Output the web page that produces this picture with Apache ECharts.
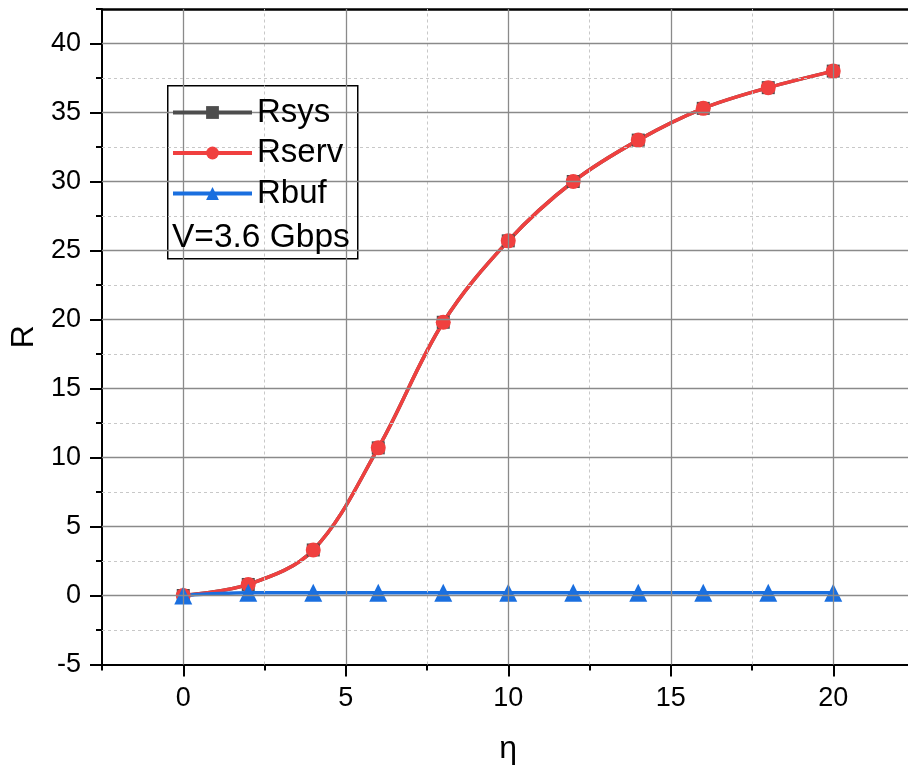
<!DOCTYPE html>
<html>
<head>
<meta charset="utf-8">
<script src="https://cdn.jsdelivr.net/npm/echarts@6/dist/echarts.min.js"></script>
<style>
html,body{margin:0;padding:0;background:#fff;}
#chart{width:908px;height:767px;}
</style>
</head>
<body>
<div id="chart"></div>
<script>
// ---- data ----
const etaValues = [0, 2, 4, 6, 8, 10, 12, 14, 16, 18, 20];
const rsysValues = [0, 0.8, 3.3, 10.7, 19.8, 25.7, 30.0, 33.0, 35.3, 36.8, 38.0];
const rservValues = [0, 0.8, 3.3, 10.7, 19.8, 25.7, 30.0, 33.0, 35.3, 36.8, 38.0];
const rbufValues = [0, 0.2, 0.2, 0.2, 0.2, 0.2, 0.2, 0.2, 0.2, 0.2, 0.2];
const seriesNames = ['Rsys', 'Rserv', 'Rbuf'];
const xMajorTicks = [0, 5, 10, 15, 20];
const xMinorGrid = [2.5, 7.5, 12.5, 17.5, 22.5];
const yMajorTicks = [-5, 0, 5, 10, 15, 20, 25, 30, 35, 40];
const yMinorGrid = [-2.5, 2.5, 7.5, 12.5, 17.5, 22.5, 27.5, 32.5, 37.5];
const annotationText = 'V=3.6 Gbps';
const xAxisName = 'η';
const yAxisName = 'R';

const FONT = "'Liberation Sans', Arial, sans-serif";
const pairs = (ys) => etaValues.map((x, i) => [x, ys[i]]);

const chart = echarts.init(document.getElementById('chart'), null, {renderer: 'canvas'});

const xCommon = {type: 'value', min: -2.5, max: 22.5, interval: 2.5, gridIndex: 0};
const yCommon = {type: 'value', min: -5, max: 42.5, interval: 2.5, gridIndex: 0};

const majorStyle = {color: '#8a8a8a', width: 1.3, type: 'solid'};
const minorStyle = {color: '#c8c8c8', width: 1, type: [3, 3]};
const gridLines = []
  .concat(xMajorTicks.filter(v => v > -2.5).map(v => ({xAxis: v, lineStyle: majorStyle})))
  .concat(xMinorGrid.map(v => ({xAxis: v, lineStyle: minorStyle})))
  .concat(yMajorTicks.filter(v => v > -5).map(v => ({yAxis: v, lineStyle: majorStyle})))
  .concat(yMinorGrid.map(v => ({yAxis: v, lineStyle: minorStyle})));

const option = {
  animation: false,
  backgroundColor: '#fff',
  textStyle: {fontFamily: FONT},
  grid: {left: 102, width: 812.5, top: 9, height: 655.5, containLabel: false, outerBoundsMode: 'none'},
  xAxis: [
    Object.assign({}, xCommon, {
      position: 'bottom',
      name: xAxisName,
      nameLocation: 'middle',
      nameGap: 69,
      nameTextStyle: {fontSize: 32, color: '#000', fontFamily: FONT},
      axisLine: {show: true, onZero: false, lineStyle: {color: '#000', width: 2}},
      axisTick: {show: true, inside: false, length: 6, lineStyle: {color: '#000', width: 2}},
      axisLabel: {show: true, margin: 21, fontSize: 27, color: '#000', fontFamily: FONT,
        formatter: (v) => xMajorTicks.indexOf(v) >= 0 ? String(v) : ''},
      splitLine: {show: false}
    }),
    Object.assign({}, xCommon, {
      position: 'bottom',
      axisLine: {show: false, onZero: false},
      axisTick: {show: true, inside: false, length: 12, customValues: xMajorTicks, lineStyle: {color: '#000', width: 2}},
      axisLabel: {show: false},
      splitLine: {show: false}
    }),
    Object.assign({}, xCommon, {
      position: 'top',
      axisLine: {show: true, onZero: false, lineStyle: {color: '#000', width: 2.5}},
      axisTick: {show: false},
      axisLabel: {show: false},
      splitLine: {show: false}
    })
  ],
  yAxis: [
    Object.assign({}, yCommon, {
      position: 'left',
      name: yAxisName,
      nameLocation: 'middle',
      nameGap: 62,
      nameTextStyle: {fontSize: 32, color: '#000', fontFamily: FONT},
      axisLine: {show: true, onZero: false, lineStyle: {color: '#000', width: 2}},
      axisTick: {show: true, inside: false, length: 6, lineStyle: {color: '#000', width: 2}},
      axisLabel: {show: true, margin: 21, fontSize: 27, color: '#000', fontFamily: FONT,
        formatter: (v) => yMajorTicks.indexOf(v) >= 0 ? String(v) : ''},
      splitLine: {show: false}
    }),
    Object.assign({}, yCommon, {
      position: 'left',
      axisLine: {show: false, onZero: false},
      axisTick: {show: true, inside: false, length: 12, customValues: yMajorTicks, lineStyle: {color: '#000', width: 2}},
      axisLabel: {show: false},
      splitLine: {show: false}
    })
  ],
  legend: {
    show: true,
    orient: 'vertical',
    left: 171,
    top: 96,
    padding: 0,
    itemWidth: 79,
    itemHeight: 16,
    itemGap: 7.5,
    z: 10,
    data: seriesNames,
    lineStyle: {width: 4},
    textStyle: {fontSize: 33, color: '#000', fontFamily: FONT, lineHeight: 33}
  },
  graphic: [
    {type: 'rect', z: 5, left: 167, top: 85,
      shape: {width: 190, height: 173},
      style: {fill: '#fff', stroke: '#000', lineWidth: 1.5}},
    {type: 'text', z: 11, left: 172, top: 221,
      style: {text: annotationText, fontSize: 33.5, fill: '#000', fontFamily: FONT}}
  ],
  series: [
    {name: '_grid', type: 'line', xAxisIndex: 0, yAxisIndex: 0, data: [], z: 0, silent: true,
      markLine: {silent: true, symbol: ['none', 'none'], label: {show: false}, animation: false,
        emphasis: {disabled: true}, data: gridLines}},
    {name: seriesNames[0], type: 'line', xAxisIndex: 0, yAxisIndex: 0, data: pairs(rsysValues),
      smooth: 0.35, symbol: 'rect', symbolSize: 13,
      lineStyle: {color: '#4d4d4d', width: 3.5}, itemStyle: {color: '#4d4d4d'}, color: '#4d4d4d'},
    {name: seriesNames[1], type: 'line', xAxisIndex: 0, yAxisIndex: 0, data: pairs(rservValues),
      smooth: 0.35, symbol: 'circle', symbolSize: 15,
      lineStyle: {color: '#f0403f', width: 3.5}, itemStyle: {color: '#f0403f'}, color: '#f0403f'},
    {name: seriesNames[2], type: 'line', xAxisIndex: 0, yAxisIndex: 0, data: pairs(rbufValues),
      smooth: 0.35, symbol: 'triangle', symbolSize: 18,
      lineStyle: {color: '#1a6fdf', width: 3.5}, itemStyle: {color: '#1a6fdf'}, color: '#1a6fdf'}
  ]
};
chart.setOption(option);
</script>
</body>
</html>
